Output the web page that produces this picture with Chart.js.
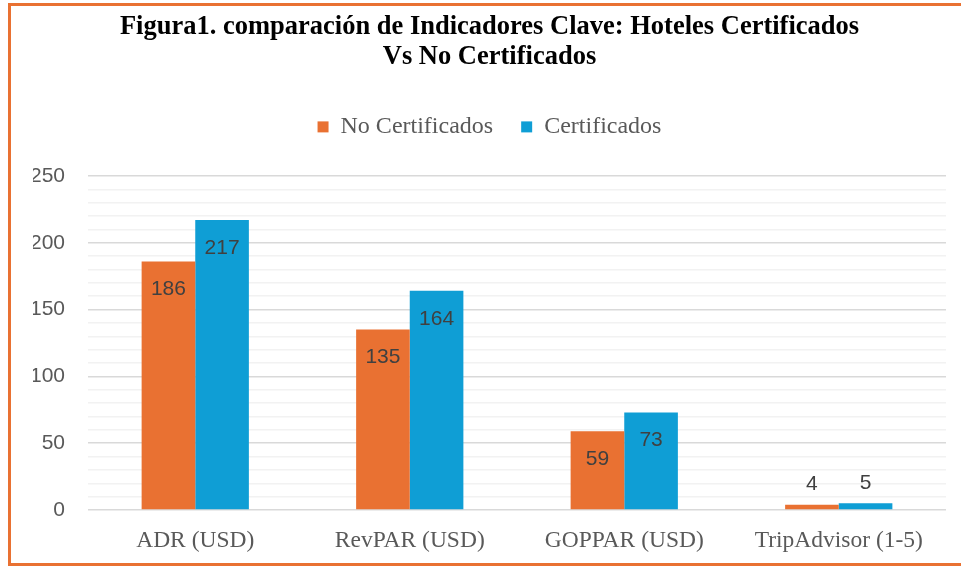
<!DOCTYPE html>
<html>
<head>
<meta charset="utf-8">
<script src="https://cdn.jsdelivr.net/npm/chart.js@4.4.1/dist/chart.umd.min.js"></script>
<style>
  html, body { margin: 0; padding: 0; background: #ffffff; }
  #wrap { position: absolute; left: 0; top: 0; width: 961px; height: 568px; }
</style>
</head>
<body>
<div id="wrap"><canvas id="c" width="961" height="568"></canvas></div>
<script>
const categories = ['ADR (USD)', 'RevPAR (USD)', 'GOPPAR (USD)', 'TripAdvisor (1-5)'];
const noCertificados = [186, 135, 59, 4];
const certificados = [217, 164, 73, 5];
const seriesNames = ['No Certificados', 'Certificados'];
const titleLines = ['Figura1. comparación de Indicadores Clave: Hoteles Certificados', 'Vs No Certificados'];
const yMax = 250;
const yMinorStep = 10;
const yMajorStep = 50;

const ORANGE = '#E97132';
const BLUE = '#0F9ED5';

const frame = {
  id: 'frame',
  afterDraw(chart) {
    const ctx = chart.ctx;
    ctx.save();
    ctx.strokeStyle = ORANGE;
    ctx.lineWidth = 3;
    ctx.strokeRect(9.5, 4.5, 970, 560);
    ctx.restore();
  }
};

const legendSpace = {
  id: 'legendSpace',
  beforeInit(chart) {
    const orig = chart.legend.fit;
    chart.legend.fit = function () {
      orig.bind(chart.legend)();
      this.height += 27;
    };
  }
};

const valueLabels = {
  id: 'valueLabels',
  afterDatasetsDraw(chart) {
    const ctx = chart.ctx;
    ctx.save();
    ctx.font = '21px "Liberation Sans", Arial, sans-serif';
    ctx.fillStyle = '#404040';
    ctx.textAlign = 'center';
    ctx.textBaseline = 'middle';
    chart.data.datasets.forEach((ds, i) => {
      const meta = chart.getDatasetMeta(i);
      meta.data.forEach((bar, j) => {
        const h = bar.base - bar.y;
        const y = h > 40 ? bar.y + 28 : bar.y - 20;
        ctx.fillText(String(ds.data[j]), bar.x, y);
      });
    });
    ctx.restore();
  }
};

new Chart(document.getElementById('c'), {
  type: 'bar',
  data: {
    labels: categories,
    datasets: [
      { label: seriesNames[0], data: noCertificados, backgroundColor: ORANGE, borderWidth: 0,
        categoryPercentage: 0.5, barPercentage: 1.0 },
      { label: seriesNames[1], data: certificados, backgroundColor: BLUE, borderWidth: 0,
        categoryPercentage: 0.5, barPercentage: 1.0 }
    ]
  },
  options: {
    responsive: false,
    animation: false,
    devicePixelRatio: 1,
    layout: { padding: { left: 33, right: 15, top: 0, bottom: 14 } },
    plugins: {
      title: {
        display: true,
        text: titleLines,
        color: '#000000',
        font: { family: '"Liberation Serif", "Times New Roman", serif', size: 26.5, weight: 'bold', lineHeight: 1.13 },
        padding: { top: 12, bottom: 15 }
      },
      legend: {
        display: true,
        position: 'top',
        labels: {
          boxWidth: 11,
          boxHeight: 11,
          padding: 28,
          color: '#595959',
          font: { family: '"Liberation Serif", "Times New Roman", serif', size: 24 }
        }
      },
      tooltip: { enabled: false }
    },
    scales: {
      x: {
        afterFit(s) { s.height = 44; },
        grid: { display: false, drawTicks: false },
        border: { display: false },
        ticks: {
          color: '#595959',
          padding: 17,
          font: { family: '"Liberation Serif", "Times New Roman", serif', size: 23.5 }
        }
      },
      y: {
        min: 0,
        max: yMax,
        afterFit(s) { s.width = 55; },
        grid: {
          drawTicks: false,
          lineWidth: 1.5,
          color: (c) => (c.tick && c.tick.value % yMajorStep === 0) ? '#d9d9d9' : '#f2f2f2'
        },
        border: { display: false },
        ticks: {
          stepSize: yMinorStep,
          autoSkip: false,
          padding: 23,
          color: '#595959',
          font: { family: '"Liberation Sans", Arial, sans-serif', size: 21 },
          callback: (v) => (v % yMajorStep === 0 ? String(v) : '')
        }
      }
    }
  },
  plugins: [frame, legendSpace, valueLabels]
});
</script>
</body>
</html>
